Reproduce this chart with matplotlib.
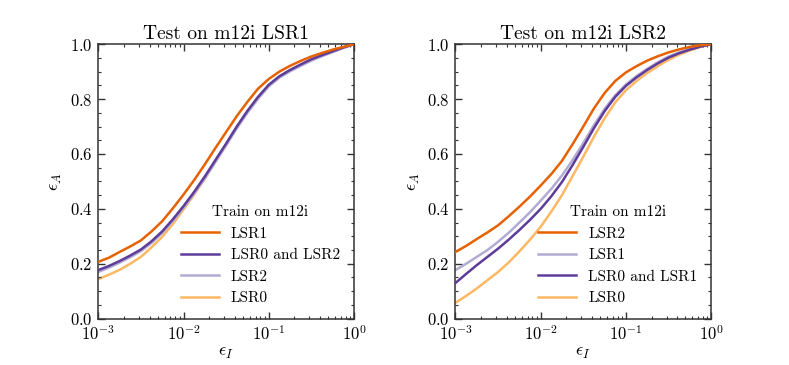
import numpy as np
import matplotlib
matplotlib.use("Agg")
import matplotlib.pyplot as plt
from matplotlib.ticker import MultipleLocator

plt.rcParams["font.family"] = "serif"
plt.rcParams["font.serif"] = ["cmr10", "DejaVu Serif"]
plt.rcParams["mathtext.fontset"] = "cm"
plt.rcParams["axes.formatter.use_mathtext"] = True

# --- Data ---
log_eps_i = [-3, -2.875, -2.75, -2.625, -2.5, -2.375, -2.25, -2.125, -2,
             -1.875, -1.75, -1.625, -1.5, -1.375, -1.25, -1.125, -1,
             -0.875, -0.75, -0.625, -0.5, -0.375, -0.25, -0.125, 0]

# Test on m12i LSR1
left_lsr1 = [0.207, 0.222, 0.243, 0.263, 0.285, 0.318, 0.355, 0.402, 0.452,
             0.505, 0.562, 0.622, 0.68, 0.738, 0.79, 0.838, 0.873,
             0.9, 0.921, 0.939, 0.955, 0.968, 0.98, 0.99, 1.0]
left_lsr0_lsr2 = [0.177, 0.192, 0.21, 0.23, 0.252, 0.282, 0.318, 0.362, 0.41,
                  0.462, 0.518, 0.578, 0.638, 0.70, 0.757, 0.808, 0.852,
                  0.883, 0.906, 0.926, 0.945, 0.96, 0.974, 0.988, 1.0]
left_lsr2 = [0.17, 0.186, 0.204, 0.224, 0.246, 0.276, 0.312, 0.356, 0.404,
             0.456, 0.511, 0.571, 0.631, 0.693, 0.75, 0.801, 0.846,
             0.878, 0.901, 0.921, 0.94, 0.956, 0.971, 0.986, 1.0]
left_lsr0 = [0.144, 0.16, 0.178, 0.2, 0.225, 0.26, 0.298, 0.345, 0.398,
             0.452, 0.51, 0.572, 0.634, 0.697, 0.755, 0.806, 0.85,
             0.882, 0.905, 0.925, 0.944, 0.96, 0.974, 0.988, 1.0]

# Test on m12i LSR2
right_lsr2 = [0.243, 0.265, 0.29, 0.314, 0.34, 0.373, 0.408, 0.445, 0.485,
              0.527, 0.575, 0.636, 0.70, 0.766, 0.822, 0.866, 0.897,
              0.92, 0.94, 0.956, 0.97, 0.981, 0.99, 0.996, 1.0]
right_lsr1 = [0.177, 0.2, 0.225, 0.25, 0.28, 0.313, 0.35, 0.388, 0.43,
              0.473, 0.522, 0.578, 0.64, 0.705, 0.764, 0.814, 0.853,
              0.884, 0.91, 0.934, 0.955, 0.97, 0.982, 0.992, 1.0]
right_lsr0_lsr1 = [0.13, 0.163, 0.195, 0.225, 0.255, 0.288, 0.323, 0.36, 0.40,
                   0.446, 0.498, 0.56, 0.626, 0.694, 0.756, 0.808, 0.848,
                   0.879, 0.906, 0.93, 0.951, 0.967, 0.98, 0.991, 1.0]
right_lsr0 = [0.058, 0.083, 0.11, 0.14, 0.17, 0.205, 0.245, 0.288, 0.335,
              0.39, 0.45, 0.52, 0.59, 0.663, 0.73, 0.788, 0.832,
              0.866, 0.895, 0.92, 0.943, 0.962, 0.977, 0.99, 1.0]

DARK_ORANGE = "#e66101"
LIGHT_ORANGE = "#fdb863"
LIGHT_PURPLE = "#b2abd2"
DARK_PURPLE = "#5e3c99"

eps_i = 10.0 ** np.array(log_eps_i)

panels = [
    ("Test on m12i LSR1", [
        ("LSR1", left_lsr1, DARK_ORANGE),
        ("LSR0 and LSR2", left_lsr0_lsr2, DARK_PURPLE),
        ("LSR2", left_lsr2, LIGHT_PURPLE),
        ("LSR0", left_lsr0, LIGHT_ORANGE),
    ]),
    ("Test on m12i LSR2", [
        ("LSR2", right_lsr2, DARK_ORANGE),
        ("LSR1", right_lsr1, LIGHT_PURPLE),
        ("LSR0 and LSR1", right_lsr0_lsr1, DARK_PURPLE),
        ("LSR0", right_lsr0, LIGHT_ORANGE),
    ]),
]

# light lines underneath, dark ones on top
z_order = {LIGHT_ORANGE: 1, LIGHT_PURPLE: 2, DARK_PURPLE: 3, DARK_ORANGE: 4}

fig = plt.figure(figsize=(7.89, 3.65), dpi=100)
lefts = [0.1246, 0.5773]

for left, (title, series) in zip(lefts, panels):
    ax = fig.add_axes([left, 0.127, 0.324, 0.752])
    for label, vals, col in series:
        ax.plot(eps_i, vals, color=col, lw=1.8, label=label, zorder=z_order[col])
    ax.set_xscale("log")
    ax.set_xlim(1e-3, 1)
    ax.set_ylim(0, 1)
    ax.yaxis.set_major_locator(MultipleLocator(0.2))
    ax.yaxis.set_minor_locator(MultipleLocator(0.05))
    for s in ax.spines.values():
        s.set_linewidth(1.1)
        s.set_color("#333333")
    ax.tick_params(which="both", direction="in", top=True, right=True,
                   labelsize=12, color="#333333", pad=4)
    ax.tick_params(which="major", length=5, width=1.0)
    ax.tick_params(which="minor", length=2.5, width=0.8)
    ax.set_title(title, fontsize=14, pad=4)
    ax.set_xlabel(r"$\epsilon_I$", fontsize=13, labelpad=2)
    ax.set_ylabel(r"$\epsilon_A$", fontsize=13, labelpad=4)
    ax.legend(title="Train on m12i", loc="lower right", frameon=False,
              fontsize=11, title_fontsize=11, handlelength=2.5,
              bbox_to_anchor=(1.0, 0.0))

fig.savefig("out.png", dpi=100)
